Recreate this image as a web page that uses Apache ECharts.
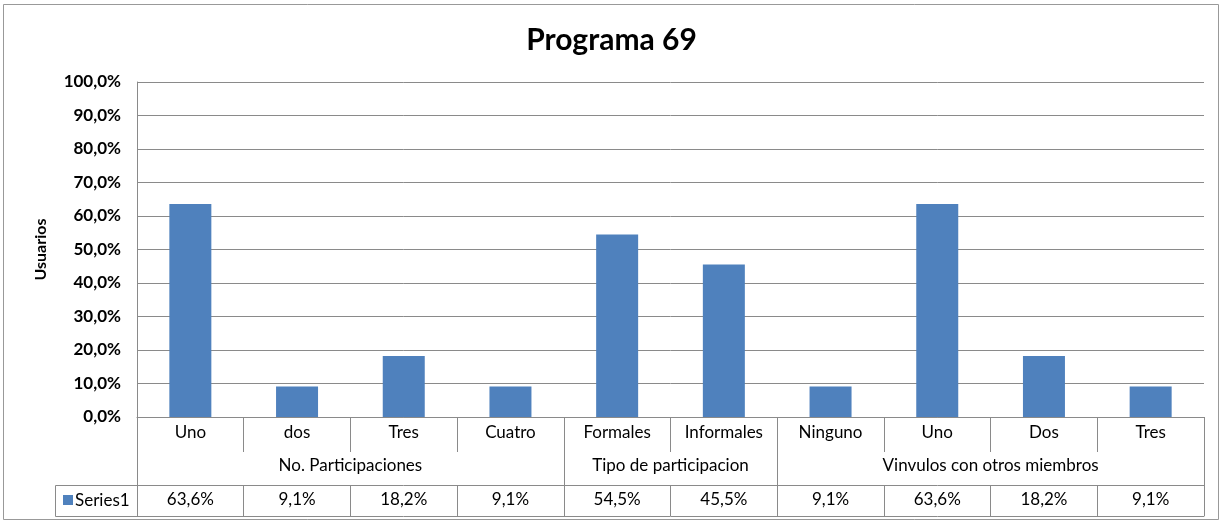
<!DOCTYPE html>
<html>
<head>
<meta charset="utf-8">
<script src="https://cdn.jsdelivr.net/npm/echarts@6/dist/echarts.min.js"></script>
<style>html,body{margin:0;padding:0;background:#fff}#c{width:1223px;height:525px}</style>
</head>
<body>
<div id="c"></div>
<script>
const categories = ['Uno','dos','Tres','Cuatro','Formales','Informales','Ninguno','Uno','Dos','Tres'];
const groups = ['No. Participaciones','Tipo de participacion','Vinvulos con otros miembros'];
const groupCenters = [2, 5, 8];
const groupBounds = [0, 4, 6, 10];
const series1 = [63.6, 9.1, 18.2, 9.1, 54.5, 45.5, 9.1, 63.6, 18.2, 9.1];
const seriesName = 'Series1';
const yTicks = [0,10,20,30,40,50,60,70,80,90,100];

const FONT = 'Lato, "Open Sans", sans-serif';
const GRID_COLOR = '#8a8a8a';
const BAR_COLOR = '#4f81bd';
const fmt = v => v.toFixed(1).replace('.', ',') + '%';

const chart = echarts.init(document.getElementById('c'), null, {renderer: 'canvas'});
const n = categories.length;
const halfIdx = categories.map((_, i) => i + 0.5);
const allIdx = categories.map((_, i) => i).concat([n]);

chart.setOption({
  backgroundColor: '#fff',
  animation: false,
  title: {
    text: 'Programa 69', left: 'center', top: 20,
    textStyle: {fontFamily: FONT, fontSize: 30, fontWeight: 'bold', color: '#000'}
  },
  grid: {left: 137, right: 19, top: 82, bottom: 108, containLabel: false},
  yAxis: {
    type: 'value', min: 0, max: 100, interval: 10,
    name: 'Usuarios', nameLocation: 'middle', nameGap: 88, nameRotate: 90,
    nameTextStyle: {fontFamily: FONT, fontSize: 16, fontWeight: 'bold', color: '#000'},
    axisLine: {show: true, lineStyle: {color: GRID_COLOR}},
    axisTick: {show: false},
    splitLine: {show: true, lineStyle: {color: GRID_COLOR, width: 1}},
    axisLabel: {formatter: fmt, fontFamily: FONT, fontSize: 17, fontWeight: 'bold', color: '#000', margin: 16}
  },
  xAxis: [
    {
      type: 'category', data: categories, position: 'bottom',
      axisLine: {show: true, lineStyle: {color: GRID_COLOR}},
      axisTick: {show: true, interval: 0, length: 35, lineStyle: {color: GRID_COLOR}},
      axisLabel: {interval: 0, fontFamily: FONT, fontSize: 17, color: '#000', margin: 7}
    },
    {
      type: 'value', min: 0, max: n, position: 'bottom', offset: 0,
      axisLine: {show: false},
      splitLine: {show: false},
      axisTick: {show: true, customValues: groupBounds, length: 99, lineStyle: {color: GRID_COLOR}},
      axisLabel: {customValues: groupCenters, fontFamily: FONT, fontSize: 17, color: '#000', margin: 40,
        formatter: v => groups[groupCenters.indexOf(v)] || ''}
    },
    {
      type: 'value', min: 0, max: n, position: 'bottom', offset: 68,
      axisLine: {show: true, lineStyle: {color: GRID_COLOR}},
      splitLine: {show: false},
      axisTick: {show: true, customValues: allIdx, length: 31, lineStyle: {color: GRID_COLOR}},
      axisLabel: {customValues: halfIdx, fontFamily: FONT, fontSize: 17, color: '#000', margin: 6,
        formatter: v => fmt(series1[Math.floor(v)])}
    },
    {
      type: 'value', min: 0, max: n, position: 'bottom', offset: 99,
      axisLine: {show: true, lineStyle: {color: GRID_COLOR}},
      splitLine: {show: false}, axisTick: {show: false}, axisLabel: {show: false}
    }
  ],
  series: [{
    name: seriesName, type: 'bar', data: series1, xAxisIndex: 0, barWidth: 42,
    itemStyle: {color: BAR_COLOR}
  }],
  graphic: [
    {type: 'rect', shape: {x: 3.5, y: 4.5, width: 1215, height: 515}, style: {fill: 'none', stroke: '#999', lineWidth: 1}, silent: true, z: -1},
    {type: 'polyline', shape: {points: [[137, 485.5], [55.5, 485.5], [55.5, 516.5], [137, 516.5]]}, style: {fill: 'none', stroke: GRID_COLOR, lineWidth: 1}, silent: true},
    {type: 'rect', shape: {x: 63, y: 495, width: 10, height: 10}, style: {fill: BAR_COLOR}, silent: true},
    {type: 'text', x: 75, y: 501, style: {text: seriesName, fontFamily: FONT, fontSize: 17, fill: '#000', verticalAlign: 'middle'}, silent: true}
  ]
});
</script>
</body>
</html>
